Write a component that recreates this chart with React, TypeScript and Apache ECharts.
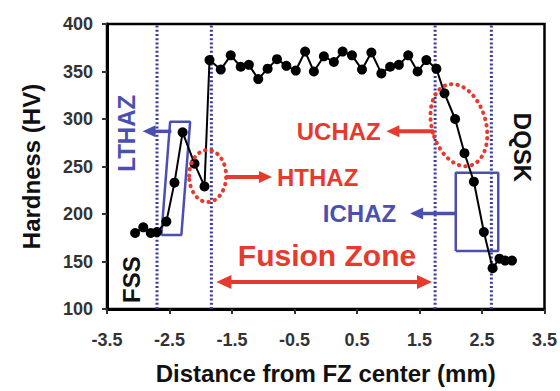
import { useEffect, useRef } from "react";
import * as echarts from "echarts";

// Hardness profile (distance from FZ centre in mm, hardness in HV)
const distance = [
  -3.05, -2.92, -2.8, -2.7, -2.55, -2.42, -2.29, -2.1, -1.94,
  -1.86, -1.68, -1.52, -1.36, -1.23, -1.08, -0.93, -0.78, -0.63, -0.48, -0.33, -0.19, -0.03,
  0.13, 0.27, 0.42, 0.58, 0.73, 0.89, 1.03, 1.17, 1.32, 1.47, 1.61, 1.77,
  1.9, 2.07, 2.22, 2.37, 2.53, 2.67, 2.78, 2.87, 2.98,
];
const hardness = [
  180, 186, 180, 181, 192, 233, 286, 253, 229,
  362, 352, 367, 355, 357, 342, 353, 363, 356, 351, 371, 350, 366,
  360, 371, 367, 352, 370, 348, 355, 357, 367, 350, 362, 353,
  327, 300, 264, 234, 181, 143, 153, 151, 151,
];
const xTickValues = [-3.5, -2.5, -1.5, -0.5, 0.5, 1.5, 2.5, 3.5];
const zoneBoundaries = [-2.7, -1.83, 1.75, 2.65];
const lthazBox = [[-2.63, 178], [-2.49, 297], [-2.17, 297], [-2.31, 178], [-2.63, 178]];
const ichazBox = [[2.08, 161], [2.08, 243.5], [2.76, 243.5], [2.76, 161], [2.08, 161]];

const RED = "#e63a2e";
const BLUE = "#4b4fb0";
const DOT = "#3a3a9c";
const FONT = '"Liberation Sans", Arial, sans-serif';

export default function App() {
  const ref = useRef<HTMLDivElement>(null);
  useEffect(() => {
    document.body.style.margin = "0";
    const chart = echarts.init(ref.current!, null, { renderer: "svg" });
    const boundarySeries = zoneBoundaries.map((b) => ({
      type: "line",
      data: [[b, 100], [b, 400]],
      symbol: "none",
      silent: true,
      z: 1,
      lineStyle: { color: DOT, width: 3, type: [2, 2.2] },
    }));
    chart.setOption({
      animation: false,
      backgroundColor: "#fff",
      grid: { left: 107, top: 24, right: 13, bottom: 82, show: true, borderColor: "#000", borderWidth: 2.5 },
      xAxis: {
        type: "value",
        min: -3.5,
        max: 3.5,
        interval: 1,
        name: "Distance from FZ center (mm)",
        nameLocation: "middle",
        nameGap: 52,
        nameTextStyle: { fontFamily: FONT, fontWeight: "bold", fontSize: 24, color: "#111" },
        axisLine: { onZero: false, lineStyle: { color: "#000", width: 3 } },
        axisTick: { show: true, length: 5, lineStyle: { color: "#333", width: 2 }, customValues: xTickValues },
        axisLabel: {
          margin: 22,
          fontFamily: FONT,
          fontWeight: "bold",
          fontSize: 18,
          color: "#333",
          customValues: xTickValues,
          formatter: (v: number) => v.toFixed(1),
        },
        splitLine: { show: false },
      },
      yAxis: {
        type: "value",
        min: 100,
        max: 400,
        interval: 50,
        name: "Hardness (HV)",
        nameLocation: "middle",
        nameGap: 64,
        nameTextStyle: { fontFamily: FONT, fontWeight: "bold", fontSize: 24, color: "#111" },
        axisLine: { show: true, onZero: false, lineStyle: { color: "#000", width: 3 } },
        axisTick: { show: true, length: 5, lineStyle: { color: "#333", width: 2 } },
        axisLabel: { margin: 14, fontFamily: FONT, fontWeight: "bold", fontSize: 18, color: "#333" },
        splitLine: { show: false },
      },
      series: [
        ...boundarySeries,
        {
          type: "line",
          data: lthazBox,
          symbol: "none",
          z: 2,
          lineStyle: { color: BLUE, width: 2.5 },
        },
        {
          type: "line",
          data: ichazBox,
          symbol: "none",
          z: 2,
          lineStyle: { color: BLUE, width: 2.5 },
        },
        {
          type: "line",
          data: distance.map((d, i) => [d, hardness[i]]),
          symbol: "circle",
          symbolSize: 10,
          z: 5,
          itemStyle: { color: "#000" },
          lineStyle: { color: "#000", width: 2 },
        },
      ],
    });

    const P = (x: number, y: number) =>
      chart.convertToPixel({ xAxisIndex: 0, yAxisIndex: 0 }, [x, y]) as number[];

    const arrow = (x1: number, y1: number, x2: number, y2: number, color: string, w: number, hl: number, hw: number, both = false) => {
      const a = P(x1, y1);
      const b = P(x2, y2);
      const dx = b[0] - a[0];
      const dy = b[1] - a[1];
      const len = Math.hypot(dx, dy);
      const ux = dx / len;
      const uy = dy / len;
      const head = (tip: number[], sx: number, sy: number) => ({
        type: "polygon",
        z: 10,
        shape: {
          points: [
            tip,
            [tip[0] - sx * hl - sy * hw, tip[1] - sy * hl + sx * hw],
            [tip[0] - sx * hl + sy * hw, tip[1] - sy * hl - sx * hw],
          ],
        },
        style: { fill: color },
      });
      const start = both ? [a[0] + ux * hl * 0.8, a[1] + uy * hl * 0.8] : a;
      const end = [b[0] - ux * hl * 0.8, b[1] - uy * hl * 0.8];
      const els: any[] = [
        { type: "line", z: 10, shape: { x1: start[0], y1: start[1], x2: end[0], y2: end[1] }, style: { stroke: color, lineWidth: w } },
        head(b, ux, uy),
      ];
      if (both) els.push(head(a, -ux, -uy));
      return els;
    };

    const text = (x: number, y: number, t: string, color: string, size: number, rotation = 0, align = "center") => {
      const p = P(x, y);
      return {
        type: "text",
        x: p[0],
        y: p[1],
        rotation,
        z: 10,
        style: {
          text: t,
          fill: color,
          font: `bold ${size}px ${FONT}`,
          textAlign: align,
          textVerticalAlign: "middle",
        },
      };
    };

    const ellipse = (x: number, y: number, rx: number, ry: number, rotation: number) => {
      const p = P(x, y);
      return {
        type: "ellipse",
        x: p[0],
        y: p[1],
        rotation,
        z: 9,
        shape: { cx: 0, cy: 0, rx, ry },
        style: { fill: "none", stroke: RED, lineWidth: 4, lineDash: [0.5, 6], lineCap: "round" },
      };
    };

    chart.setOption({
      graphic: [
        text(-3.18, 285, "LTHAZ", BLUE, 24, Math.PI / 2),
        text(-3.1, 131, "FSS", "#111", 24, Math.PI / 2),
        text(3.15, 270, "DQSK", "#111", 24, -Math.PI / 2),
        text(-0.78, 238, "HTHAZ", RED, 24, 0, "left"),
        text(0.88, 287, "UCHAZ", RED, 24, 0, "right"),
        text(0.54, 201, "ICHAZ", BLUE, 24),
        text(0.02, 156, "Fusion Zone", RED, 30),
        ellipse(-1.89, 240, 18.5, 26, 0),
        ellipse(2.13, 293.5, 27, 42, 0.28),
        ...arrow(-2.47, 287, -2.93, 287, BLUE, 3.5, 13, 6),
        ...arrow(2.08, 200.5, 1.35, 200.5, BLUE, 3.5, 13, 6),
        ...arrow(-1.6, 239, -0.86, 239, RED, 4, 13, 6),
        ...arrow(1.73, 287, 0.97, 287, RED, 4, 13, 6),
        ...arrow(-1.75, 128.5, 1.7, 128.5, RED, 4, 15, 7, true),
      ],
    });
    return () => chart.dispose();
  }, []);
  return <div ref={ref} style={{ position: "absolute", left: 0, top: 0, width: 560, height: 391 }} />;
}
